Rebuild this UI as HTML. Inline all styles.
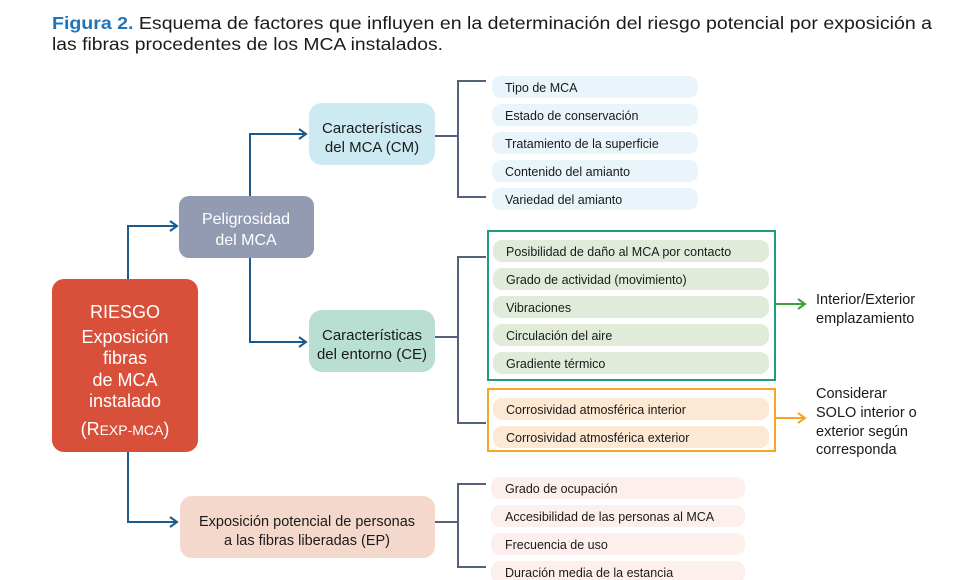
<!DOCTYPE html>
<html><head><meta charset="utf-8"><style>
html,body{margin:0;padding:0;background:#fff;}
svg{display:block;font-family:"Liberation Sans",sans-serif;}
</style></head><body>
<svg width="977" height="580" viewBox="0 0 977 580" xmlns="http://www.w3.org/2000/svg">
<defs>
<marker id="ab" markerWidth="10" markerHeight="12" refX="8" refY="6" orient="auto" markerUnits="userSpaceOnUse"><path d="M1,1 L8,6 L1,11" fill="none" stroke="#1d5a8c" stroke-width="2"/></marker>
<marker id="ag" markerWidth="10" markerHeight="12" refX="8" refY="6" orient="auto" markerUnits="userSpaceOnUse"><path d="M1,1 L8,6 L1,11" fill="none" stroke="#3aa03a" stroke-width="2"/></marker>
<marker id="ao" markerWidth="10" markerHeight="12" refX="8" refY="6" orient="auto" markerUnits="userSpaceOnUse"><path d="M1,1 L8,6 L1,11" fill="none" stroke="#f5a623" stroke-width="2"/></marker>
</defs>
<text x="52" y="29" font-size="17.5" fill="#1a1a1a" textLength="880" lengthAdjust="spacingAndGlyphs"><tspan fill="#1f74b8" font-weight="bold">Figura 2.</tspan> Esquema de factores que influyen en la determinación del riesgo potencial por exposición a</text>
<text x="52" y="50" font-size="17.5" fill="#1a1a1a" textLength="391" lengthAdjust="spacingAndGlyphs">las fibras procedentes de los MCA instalados.</text>

<g fill="none" stroke="#1d5a8c" stroke-width="2">
<path d="M128,279 V226 H177" marker-end="url(#ab)"/>
<path d="M128,452 V522 H177" marker-end="url(#ab)"/>
<path d="M250,196 V134 H306" marker-end="url(#ab)"/>
<path d="M250,258 V342 H306" marker-end="url(#ab)"/>
</g>
<g fill="none" stroke="#55607a" stroke-width="2">
<path d="M435,136 H458 M486,81 H458 V197 H486"/>
<path d="M435,337 H458 M486,257 H458 V423 H486"/>
<path d="M435,522 H458 M486,484 H458 V567 H486"/>
</g>

<rect x="52" y="279" width="146" height="173" rx="12" fill="#d9503a"/>
<g fill="#fff" font-size="18" text-anchor="middle">
<text x="125" y="318">RIESGO</text>
<text x="125" y="343">Exposición</text>
<text x="125" y="364">fibras</text>
<text x="125" y="386">de MCA</text>
<text x="125" y="407">instalado</text>
<text x="125" y="435">(R<tspan font-size="14">EXP-MCA</tspan>)</text>
</g>
<rect x="179" y="196" width="135" height="62" rx="10" fill="#939bb3"/>
<text x="246" y="224" fill="#fff" font-size="16" text-anchor="middle">Peligrosidad</text>
<text x="246" y="245" fill="#fff" font-size="16" text-anchor="middle">del MCA</text>
<rect x="309" y="103" width="126" height="62" rx="13" fill="#cde9f2"/>
<text x="372" y="133" fill="#1a1a1a" font-size="15" text-anchor="middle">Características</text>
<text x="372" y="152" fill="#1a1a1a" font-size="15" text-anchor="middle">del MCA (CM)</text>
<rect x="309" y="310" width="126" height="62" rx="13" fill="#b8dfd2"/>
<text x="372" y="340" fill="#1a1a1a" font-size="15" text-anchor="middle">Características</text>
<text x="372" y="359" fill="#1a1a1a" font-size="15" text-anchor="middle">del entorno (CE)</text>
<rect x="180" y="496" width="255" height="62" rx="12" fill="#f5d8cc"/>
<text x="307" y="526" fill="#1a1a1a" font-size="14.5" text-anchor="middle">Exposición potencial de personas</text>
<text x="307" y="545" fill="#1a1a1a" font-size="14.5" text-anchor="middle">a las fibras liberadas (EP)</text>

<g font-size="12.5" fill="#1a1a1a">
<rect x="492" y="76" width="206" height="22" rx="9" fill="#eaf4fb"/><text x="505" y="92">Tipo de MCA</text>
<rect x="492" y="104" width="206" height="22" rx="9" fill="#eaf4fb"/><text x="505" y="120">Estado de conservación</text>
<rect x="492" y="132" width="206" height="22" rx="9" fill="#eaf4fb"/><text x="505" y="148">Tratamiento de la superficie</text>
<rect x="492" y="160" width="206" height="22" rx="9" fill="#eaf4fb"/><text x="505" y="176">Contenido del amianto</text>
<rect x="492" y="188" width="206" height="22" rx="9" fill="#eaf4fb"/><text x="505" y="204">Variedad del amianto</text>

<rect x="488" y="231" width="287" height="149" fill="none" stroke="#1a9e7e" stroke-width="2"/>
<rect x="493" y="240" width="276" height="22" rx="9" fill="#e0ecd9"/><text x="506" y="256">Posibilidad de daño al MCA por contacto</text>
<rect x="493" y="268" width="276" height="22" rx="9" fill="#e0ecd9"/><text x="506" y="284">Grado de actividad (movimiento)</text>
<rect x="493" y="296" width="276" height="22" rx="9" fill="#e0ecd9"/><text x="506" y="312">Vibraciones</text>
<rect x="493" y="324" width="276" height="22" rx="9" fill="#e0ecd9"/><text x="506" y="340">Circulación del aire</text>
<rect x="493" y="352" width="276" height="22" rx="9" fill="#e0ecd9"/><text x="506" y="368">Gradiente térmico</text>

<rect x="488" y="389" width="287" height="62" fill="none" stroke="#f5a623" stroke-width="2"/>
<rect x="493" y="398" width="276" height="22" rx="9" fill="#fde8d3"/><text x="506" y="414">Corrosividad atmosférica interior</text>
<rect x="493" y="426" width="276" height="22" rx="9" fill="#fde8d3"/><text x="506" y="442">Corrosividad atmosférica exterior</text>

<rect x="491" y="477" width="254" height="22" rx="9" fill="#fdf0ec"/><text x="505" y="493">Grado de ocupación</text>
<rect x="491" y="505" width="254" height="22" rx="9" fill="#fdf0ec"/><text x="505" y="521">Accesibilidad de las personas al MCA</text>
<rect x="491" y="533" width="254" height="22" rx="9" fill="#fdf0ec"/><text x="505" y="549">Frecuencia de uso</text>
<rect x="491" y="561" width="254" height="22" rx="9" fill="#fdf0ec"/><text x="505" y="577">Duración media de la estancia</text>
</g>

<path d="M776,304 H805" stroke="#3aa03a" stroke-width="2" fill="none" marker-end="url(#ag)"/>
<path d="M776,418 H805" stroke="#f5a623" stroke-width="2" fill="none" marker-end="url(#ao)"/>
<g font-size="14.5" fill="#1a1a1a">
<text x="816" y="304">Interior/Exterior</text>
<text x="816" y="323">emplazamiento</text>
<text x="816" y="398">Considerar</text>
<text x="816" y="417">SOLO interior o</text>
<text x="816" y="436">exterior según</text>
<text x="816" y="454">corresponda</text>
</g>
</svg>
</body></html>
